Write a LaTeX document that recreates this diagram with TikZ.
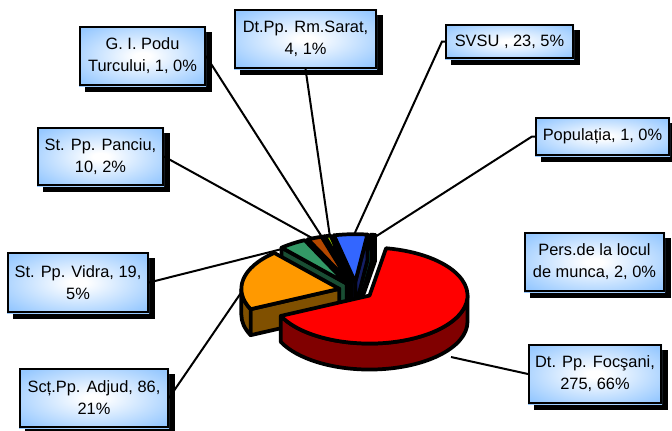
\documentclass[tikz,border=0pt]{standalone}
\usepackage{fontspec}
\setmainfont{Liberation Sans}
\usetikzlibrary{backgrounds}

\definecolor{lblue}{RGB}{150,200,255}
\definecolor{pred}{RGB}{255,0,0}
\definecolor{predside}{RGB}{128,0,0}
\definecolor{porange}{RGB}{255,153,0}
\definecolor{porangeside}{RGB}{128,80,0}
\definecolor{pgreen}{RGB}{51,153,102}
\definecolor{pgreenside}{RGB}{25,77,51}
\definecolor{pbrown}{RGB}{180,72,0}
\definecolor{pbrownside}{RGB}{90,36,0}
\definecolor{plime}{RGB}{153,204,0}
\definecolor{plimeside}{RGB}{77,102,0}
\definecolor{pgold}{RGB}{255,204,0}
\definecolor{pgoldside}{RGB}{128,102,0}
\definecolor{pblue}{RGB}{51,102,255}
\definecolor{pblueside}{RGB}{20,30,100}
\definecolor{pteal}{RGB}{0,128,128}
\definecolor{ptealside}{RGB}{0,64,64}
\definecolor{pnavy}{RGB}{0,0,128}
\definecolor{pnavyside}{RGB}{0,0,64}

\pgfdeclareradialshading{lblshade}{\pgfpoint{0bp}{0bp}}{color(0bp)=(white); color(3bp)=(white); color(32bp)=(lblue); color(50bp)=(lblue)}

% pie geometry (units of the picture)
\newcommand{\pcx}{356}
\newcommand{\pcy}{139.5}
\newcommand{\prx}{98}
\newcommand{\pry}{48}
\newcommand{\pdep}{26}
\newcommand{\pex}{17}

\newcommand{\pieslice}[4]{%
  \pgfmathsetmacro{\sma}{(#1+#2)/2}%
  \pgfmathsetmacro{\smx}{\pcx+\pex*cos(\sma)}%
  \pgfmathsetmacro{\smy}{\pcy+\pex*\pry/\prx*sin(\sma)}%
  \pgfmathsetmacro{\rimS}{max(#1,180)}%
  \pgfmathsetmacro{\rimE}{min(#2,360)}%
  \pgfmathsetmacro{\cosA}{cos(#1)}%
  \pgfmathsetmacro{\cosB}{cos(#2)}%
  \ifdim\cosA pt>0pt
    \filldraw[pie,fill=#4] (\smx,\smy) -- ({\smx+\prx*cos(#1)},{\smy+\pry*sin(#1)})
      -- ++(0,-\pdep) -- (\smx,{\smy-\pdep}) -- cycle;
  \fi
  \ifdim\cosB pt<0pt
    \filldraw[pie,fill=#4] (\smx,\smy) -- ({\smx+\prx*cos(#2)},{\smy+\pry*sin(#2)})
      -- ++(0,-\pdep) -- (\smx,{\smy-\pdep}) -- cycle;
  \fi
  \ifdim\rimE pt>\rimS pt
    \filldraw[pie,fill=#4] ({\smx+\prx*cos(\rimS)},{\smy+\pry*sin(\rimS)})
      arc[start angle=\rimS,end angle=\rimE,x radius=\prx,y radius=\pry]
      -- ++(0,-\pdep)
      arc[start angle=\rimE,end angle=\rimS,x radius=\prx,y radius=\pry] -- cycle;
  \fi
  \filldraw[pie,fill=#3] (\smx,\smy) -- ({\smx+\prx*cos(#1)},{\smy+\pry*sin(#1)})
    arc[start angle=#1,end angle=#2,x radius=\prx,y radius=\pry] -- cycle;
}

\begin{document}
\begin{tikzpicture}[x=0.75pt,y=0.75pt,
    pie/.style={draw=black,line width=2.8pt,line join=round},
    lead/.style={draw,line width=1.5pt},
    lbl/.style={draw=black,line width=1.5pt,
      align=center,inner sep=1pt,font=\fontsize{12.3}{16.5}\selectfont}]
    \useasboundingbox (0,0) rectangle (672,430);

    \node[lbl,minimum width=93.75pt,minimum height=43.5pt] (podu) at (142.5,374) {G. I. Podu\\Turcului, 1, 0\%};
    \node[lbl,minimum width=105.75pt,minimum height=43.5pt] (rmsarat) at (305.5,391) {Dt.Pp. Rm.Sarat,\\4, 1\%};
    \node[lbl,minimum width=95.25pt,minimum height=24.75pt] (svsu) at (509.5,388.5) {SVSU , 23, 5\%};
    \node[lbl,minimum width=99.75pt,minimum height=27.75pt] (populatia) at (602.5,293.5) {Populația, 1, 0\%};
    \node[lbl,minimum width=93.75pt,minimum height=42.75pt] (panciu) at (100.5,273.5) {St. Pp. Panciu,\\10, 2\%};
    \node[lbl,minimum width=105pt,minimum height=44.25pt] (vidra) at (78,147.5) {St. Pp. Vidra, 19,\\5\%};
    \node[lbl,minimum width=111pt,minimum height=43.5pt] (adjud) at (94,32) {Scț.Pp. Adjud, 86,\\21\%};
    \node[lbl,minimum width=104.25pt,minimum height=43.5pt] (pers) at (594.5,168) {Pers.de la locul\\de munca, 2, 0\%};
    \node[lbl,minimum width=99pt,minimum height=43.5pt] (focsani) at (595,56) {Dt. Pp. Focşani,\\275, 66\%};

    % shadows and fills of the labels
    \begin{pgfonlayer}{background}
      \foreach \n in {podu,rmsarat,svsu,populatia,panciu,vidra,adjud,pers,focsani}{
        \fill[black] ([shift={(4.5pt,-4.5pt)}]\n.south west) rectangle ([shift={(4.5pt,-4.5pt)}]\n.north east);
        \shade[shading=lblshade] (\n.south west) rectangle (\n.north east);
      }
    \end{pgfonlayer}

    \coordinate (pPodu) at (322,193);
    \coordinate (pRm) at (330,193);
    \coordinate (pPanciu) at (312,192);
    \coordinate (pVidra) at (290,183);
    \coordinate (pAdjud) at (245,143);
    \coordinate (pSvsu) at (353,193);
    \coordinate (pPop) at (375,193);
    \coordinate (pFoc) at (451,73);

    \draw[lead] (podu.east) -- (pPodu);
    \draw[lead] (rmsarat.south) -- (pRm);
    \draw[lead] (panciu.east) -- (pPanciu);
    \draw[lead] (vidra.east) -- (pVidra);
    \draw[lead] (adjud.east) -- (pAdjud);
    \draw[lead] (svsu.west) -- ++(-3,0) -- (pSvsu);
    \draw[lead] (populatia.west) -- ++(-3,0) -- (pPop);
    \draw[lead] (focsani.west) -- (pFoc);

    % slices, back to front
    \pgfmathsetmacro{\angA}{80.3}
    \foreach \val/\ctop/\cside in {2/pnavy/pnavyside,1/pteal/ptealside,23/pblue/pblueside,
        4/plime/plimeside,1/pgold/pgoldside,10/pbrown/pbrownside,19/pgreen/pgreenside,
        86/porange/porangeside,275/pred/predside}{
      \pgfmathsetmacro{\angB}{\angA+\val/421*360}
      \pieslice{\angA}{\angB}{\ctop}{\cside}
      \global\let\angA\angB
    }
\end{tikzpicture}
\end{document}
